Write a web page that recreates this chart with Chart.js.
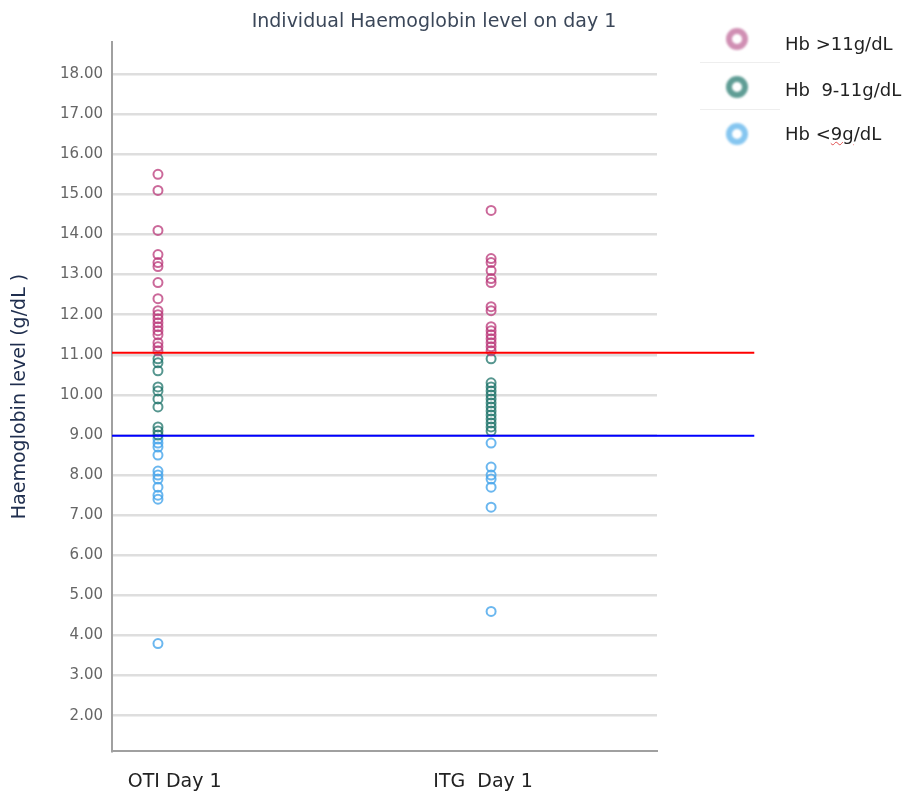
<!DOCTYPE html>
<html>
<head>
<meta charset="utf-8">
<script src="https://cdn.jsdelivr.net/npm/chart.js@4.4.1/dist/chart.umd.min.js"></script>
<style>
  body { margin: 0; background: #fff; }
  #wrap { position: relative; width: 909px; height: 798px; }
  #title { position: absolute; left: 0; width: 868px; top: 9px; text-align: center;
           font: 19px "DejaVu Sans", sans-serif; color: #3b4759; }
  .lg { position: absolute; left: 785px; font: 18px "DejaVu Sans", sans-serif; color: #222; }
  .dot { position: absolute; left: 726px; width: 10px; height: 10px; border-radius: 50%;
         border: 6px solid; filter: blur(1px); }
  .sep { position: absolute; left: 700px; width: 80px; height: 1px; background: #eee; }
  .sq { text-decoration: underline wavy #e05050; text-decoration-thickness: 1px; }
</style>
</head>
<body>
<div id="wrap">
  <canvas id="myChart" width="909" height="798"></canvas>
  <div id="title">Individual Haemoglobin level on day 1</div>
  <div class="dot" style="top:28px; border-color:#d08fb3"></div>
  <div class="lg" style="top:33px">Hb &gt;11g/dL</div>
  <div class="sep" style="top:62px"></div>
  <div class="dot" style="top:76px; border-color:#5f9d95"></div>
  <div class="lg" style="top:79px">Hb&nbsp; 9-11g/dL</div>
  <div class="sep" style="top:109px"></div>
  <div class="dot" style="top:123px; border-color:#86c6f0"></div>
  <div class="lg" style="top:123px">Hb &lt;<span class="sq">9g</span>/dL</div>
</div>
<script>
var groups = ["OTI Day 1", "ITG  Day 1"];
var yTicks = [2, 3, 4, 5, 6, 7, 8, 9, 10, 11, 12, 13, 14, 15, 16, 17, 18];

// Hb values, per group and band
var otiHigh = [15.5, 15.1, 14.1, 13.5, 13.3, 13.2, 12.8, 12.4, 12.1, 12.0, 11.9, 11.8, 11.7, 11.6, 11.5, 11.3, 11.2, 11.1];
var otiMid  = [10.9, 10.8, 10.6, 10.2, 10.1, 9.9, 9.7, 9.2, 9.1, 9.0];
var otiLow  = [8.9, 8.8, 8.7, 8.5, 8.1, 8.0, 7.9, 7.7, 7.5, 7.4, 3.8];
var itgHigh = [14.6, 13.4, 13.3, 13.1, 12.9, 12.8, 12.2, 12.1, 11.7, 11.6, 11.5, 11.4, 11.3, 11.2, 11.1];
var itgMid  = [10.9, 10.3, 10.2, 10.1, 10.0, 9.9, 9.8, 9.7, 9.6, 9.5, 9.4, 9.3, 9.2, 9.1];
var itgLow  = [8.8, 8.2, 8.0, 7.9, 7.7, 7.2, 4.6];

var cutHigh = 11.05;
var cutLow = 8.98;

function pts(oti, itg) {
  return oti.map(function (v) { return {x: 1, y: v}; })
    .concat(itg.map(function (v) { return {x: 2, y: v}; }));
}

var refLines = {
  id: 'refLines',
  afterDatasetsDraw: function (chart) {
    var c = chart.ctx, xs = chart.scales.x, ys = chart.scales.y;
    var x0 = chart.chartArea.left, x1 = xs.getPixelForValue(2.79);
    [[cutHigh, '#ff0000'], [cutLow, '#0000ff']].forEach(function (l) {
      var y = ys.getPixelForValue(l[0]);
      c.save();
      c.strokeStyle = l[1];
      c.lineWidth = 2;
      c.beginPath(); c.moveTo(x0, y); c.lineTo(x1, y); c.stroke();
      c.restore();
    });
  }
};

var ds = function (label, data, col) {
  return { label: label, data: data, borderColor: col, backgroundColor: 'rgba(255,255,255,0)',
           pointRadius: 4.5, pointBorderWidth: 2, pointHoverRadius: 4.5 };
};

var ctx = document.getElementById("myChart").getContext('2d');
var myChart = new Chart(ctx, {
  type: 'scatter',
  data: {
    datasets: [
      ds('Hb >11g/dL', pts(otiHigh, itgHigh), 'rgba(185,55,120,0.75)'),
      ds('Hb 9-11g/dL', pts(otiMid, itgMid), 'rgba(30,115,105,0.75)'),
      ds('Hb <9g/dL', pts(otiLow, itgLow), 'rgba(70,165,235,0.8)')
    ]
  },
  options: {
    responsive: false,
    animation: false,
    layout: { padding: { left: 6, right: 252, top: 42, bottom: 0 } },
    plugins: { legend: { display: false }, tooltip: { enabled: false } },
    scales: {
      x: {
        type: 'linear', min: 0.862, max: 2.498,
        afterBuildTicks: function (s) { s.ticks = [{value: 1.05}, {value: 1.976}]; },
        afterFit: function (s) { s.height = 47; },
        ticks: {
          padding: 20, maxRotation: 0, autoSkip: false,
          font: { family: 'DejaVu Sans', size: 19 }, color: '#222',
          callback: function (v, i) { return groups[i]; }
        },
        grid: { display: false, drawTicks: false },
        border: { color: '#a0a0a0', width: 2 }
      },
      y: {
        min: 1.12, max: 18.8,
        afterBuildTicks: function (s) { s.ticks = yTicks.map(function (v) { return {value: v}; }); },
        afterFit: function (s) { s.width = 106; },
        ticks: {
          padding: 9, font: { family: 'DejaVu Sans', size: 15 }, color: '#666',
          callback: function (v) { return v.toFixed(2); }
        },
        grid: { color: '#dedede', lineWidth: 2.5, drawTicks: false },
        border: { color: '#a0a0a0', width: 2 },
        title: {
          display: true, text: 'Haemoglobin level (g/dL )', color: '#1f2e4e',
          font: { family: 'DejaVu Sans', size: 19 }, padding: { top: 3, bottom: 10 }
        }
      }
    }
  },
  plugins: [refLines]
});
</script>
</body>
</html>
